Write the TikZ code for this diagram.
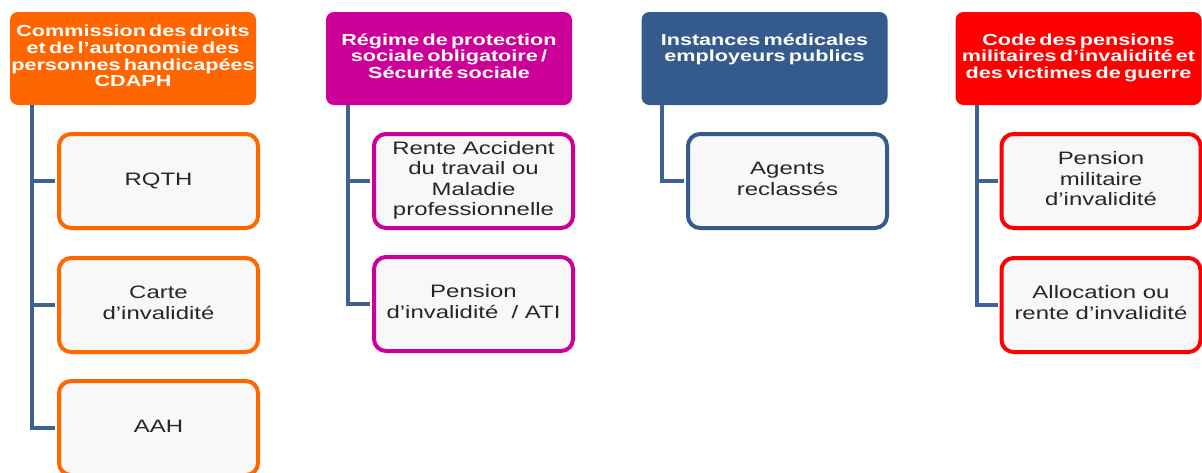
\documentclass[tikz,border=0pt]{standalone}
\usepackage{fontspec}
\setmainfont{Liberation Sans}
\usepackage{graphicx}
\definecolor{cdaphorange}{RGB}{255,102,0}
\definecolor{secumagenta}{RGB}{204,0,153}
\definecolor{medblue}{RGB}{52,91,139}
\definecolor{guerrered}{RGB}{255,0,0}
\definecolor{linkblue}{RGB}{62,98,145}
\definecolor{boxgray}{RGB}{248,248,248}
\definecolor{txtgray}{RGB}{38,38,38}
\newcommand{\hdtxt}[1]{\scalebox{1.35}[1]{\fontsize{16}{16.5}\selectfont\bfseries\spaceskip=.15em\begin{tabular}{@{}c@{}}#1\end{tabular}}}
\newcommand{\chtxt}[1]{\scalebox{1.33}[1]{\fontsize{18}{20.5}\selectfont\begin{tabular}{@{}c@{}}#1\end{tabular}}}
\begin{document}
\begin{tikzpicture}[x=1pt,y=-1pt,
    head/.style={fill=#1, rounded corners=8pt, minimum width=246pt, minimum height=93pt, inner sep=0pt, text=white},
    item/.style={draw=#1, line width=4pt, fill=boxgray, rounded corners=12pt, minimum width=199pt, minimum height=94pt, inner sep=0pt, text=txtgray},
    branch/.style={draw=linkblue, line width=4pt, shorten >=2pt}]
        \useasboundingbox (0,0) rectangle (1202,472);

        \node[head=cdaphorange] (cdaph) at (133,58.5) {\hdtxt{Commission des droits\\et de l'autonomie des\\personnes handicapées\\CDAPH}};
        \node[head=secumagenta] (secu) at (449,58.5) {\hdtxt{Régime de protection\\sociale obligatoire /\\Sécurité sociale}};
        \node[head=medblue] (instances) at (764.5,58.5) {\hdtxt{Instances médicales\\employeurs publics\\~}};
        \node[head=guerrered] (cpmi) at (1078.5,58.5) {\hdtxt{Code des pensions\\militaires d'invalidité et\\des victimes de guerre}};

        \node[item=cdaphorange] (rqth) at (158.5,181) {\chtxt{RQTH}};
        \node[item=cdaphorange] (carte) at (158.5,305) {\chtxt{Carte\\d'invalidité}};
        \node[item=cdaphorange] (aah) at (158.5,428) {\chtxt{AAH}};
        \node[item=secumagenta] (rente) at (473.5,181) {\chtxt{Rente Accident\\du travail ou\\Maladie\\professionnelle}};
        \node[item=secumagenta] (pension) at (473.5,304) {\chtxt{Pension\\d'invalidité~ / ATI}};
        \node[item=medblue] (agents) at (787.5,181) {\chtxt{Agents\\reclassés}};
        \node[item=guerrered] (pmi) at (1101,181) {\chtxt{Pension\\militaire\\d'invalidité}};
        \node[item=guerrered] (allocation) at (1101,305) {\chtxt{Allocation ou\\rente d'invalidité}};

        \foreach \c in {rqth,carte,aah}
          \draw[branch] ([xshift=22pt]cdaph.south west) |- (\c.west);
        \foreach \c in {rente,pension}
          \draw[branch] ([xshift=22pt]secu.south west) |- (\c.west);
        \draw[branch] ([xshift=21pt]instances.south west) |- (agents.west);
        \foreach \c in {pmi,allocation}
          \draw[branch] ([xshift=22pt]cpmi.south west) |- (\c.west);
      \end{tikzpicture}
\end{document}
